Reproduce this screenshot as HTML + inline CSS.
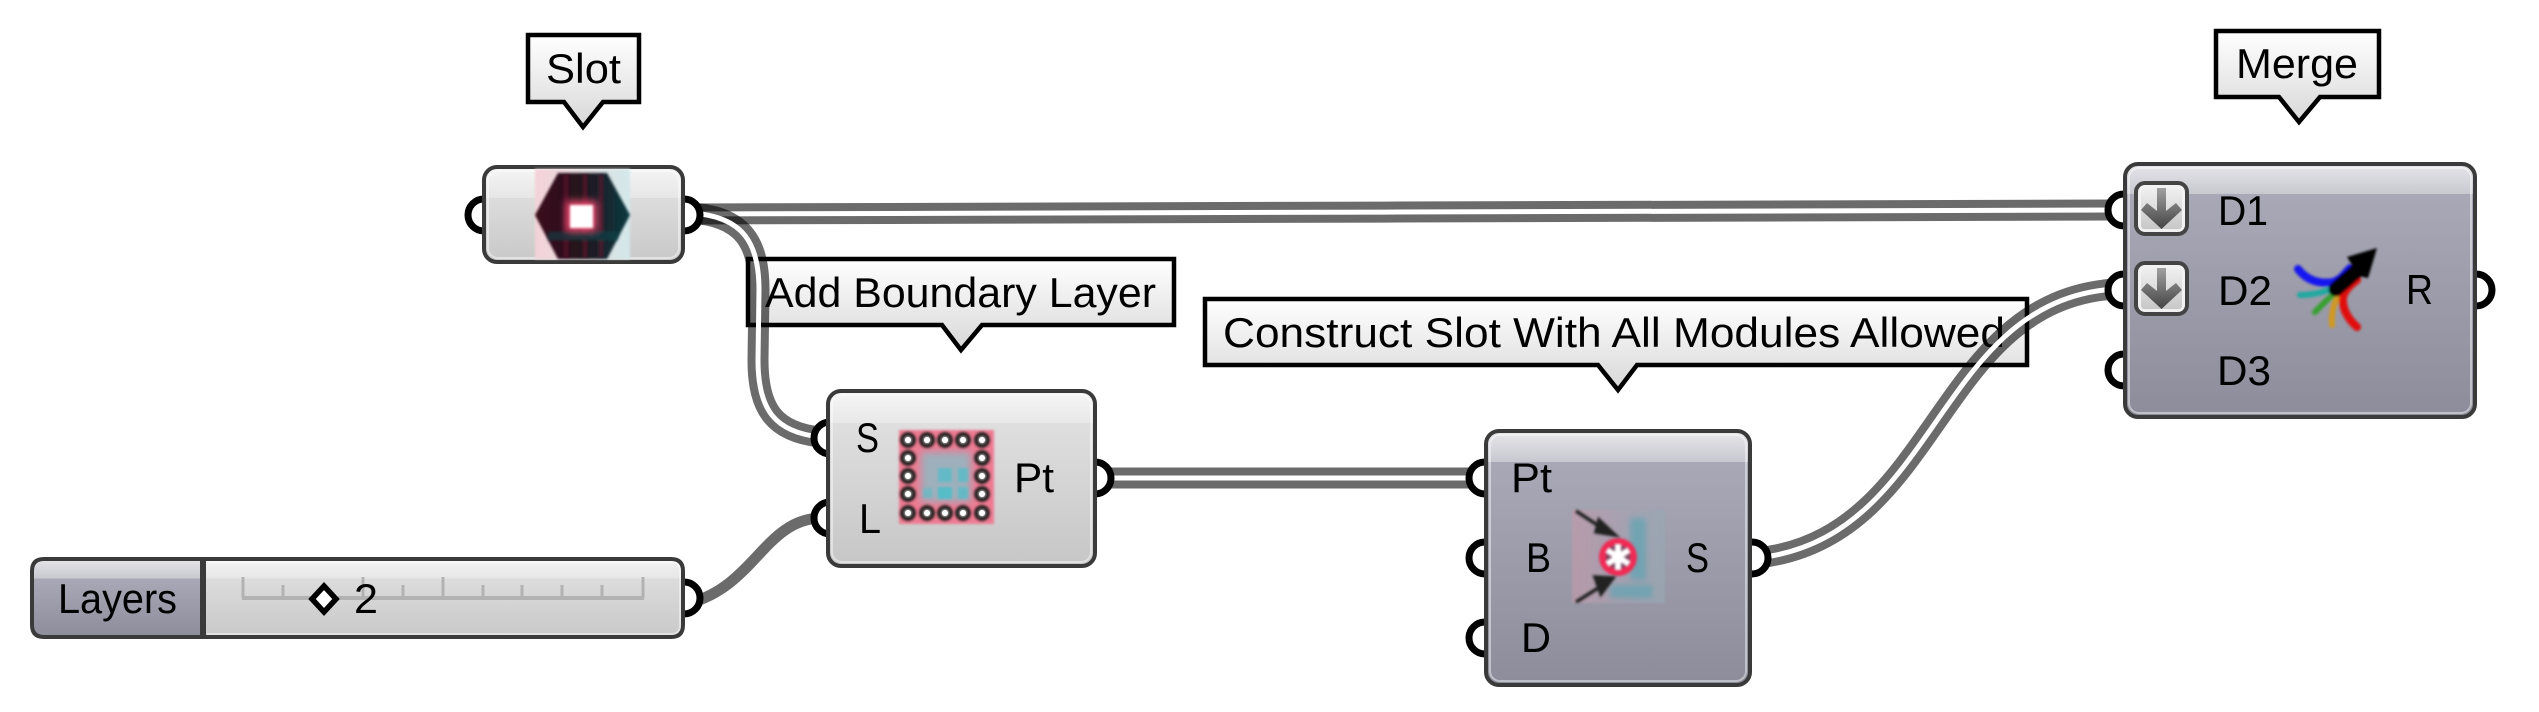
<!DOCTYPE html>
<html>
<head>
<meta charset="utf-8">
<style>
html,body{margin:0;padding:0;background:#fff;width:2539px;height:712px;overflow:hidden}
svg{display:block}
text{font-family:"Liberation Sans",sans-serif;font-size:42px;fill:#000}
.w{fill:none;stroke:#000;stroke-opacity:.58;stroke-width:21}
.g{fill:none;stroke:#fff;stroke-width:5}
.p{fill:#fff;stroke:#000;stroke-width:7}
.c{stroke:#3a3a3a;stroke-width:4}
.h{fill:none;stroke:#fff;stroke-opacity:.45;stroke-width:2}
.t{stroke:#000;stroke-width:4.5;stroke-linejoin:miter;fill:url(#tt)}
.k{stroke:#b2b2b2;stroke-width:3}
</style>
</head>
<body>
<svg width="2539" height="712" viewBox="0 0 2539 712" xmlns="http://www.w3.org/2000/svg">
<defs>
<linearGradient id="tt" x1="0" y1="0" x2="0" y2="1"><stop offset="0" stop-color="#ffffff"/><stop offset="1" stop-color="#d8d8d8"/></linearGradient>
<linearGradient id="g1" gradientUnits="userSpaceOnUse" x1="0" y1="166" x2="0" y2="263"><stop offset="0" stop-color="#f6f6f6"/><stop offset=".33" stop-color="#e6e6e6"/><stop offset=".33" stop-color="#dcdcdc"/><stop offset="1" stop-color="#c8c8c8"/></linearGradient>
<linearGradient id="g2" gradientUnits="userSpaceOnUse" x1="0" y1="390" x2="0" y2="567"><stop offset="0" stop-color="#f6f6f6"/><stop offset=".187" stop-color="#e8e8e8"/><stop offset=".187" stop-color="#dfdfdf"/><stop offset="1" stop-color="#c6c6c6"/></linearGradient>
<linearGradient id="g3" gradientUnits="userSpaceOnUse" x1="0" y1="429" x2="0" y2="687"><stop offset="0" stop-color="#e8e8ec"/><stop offset=".128" stop-color="#c8c8d0"/><stop offset=".128" stop-color="#a8a8b6"/><stop offset="1" stop-color="#8c8c9a"/></linearGradient>
<linearGradient id="g4" gradientUnits="userSpaceOnUse" x1="0" y1="162" x2="0" y2="419"><stop offset="0" stop-color="#e8e8ec"/><stop offset=".125" stop-color="#c8c8d0"/><stop offset=".125" stop-color="#a8a8b6"/><stop offset="1" stop-color="#8c8c9a"/></linearGradient>
<linearGradient id="g5" gradientUnits="userSpaceOnUse" x1="0" y1="557" x2="0" y2="639"><stop offset="0" stop-color="#f6f6f6"/><stop offset=".26" stop-color="#e6e6e6"/><stop offset=".26" stop-color="#dcdcdc"/><stop offset="1" stop-color="#c8c8c8"/></linearGradient>
<linearGradient id="g6" gradientUnits="userSpaceOnUse" x1="0" y1="557" x2="0" y2="639"><stop offset="0" stop-color="#e8e8ec"/><stop offset=".26" stop-color="#c8c8d0"/><stop offset=".26" stop-color="#a8a8b6"/><stop offset="1" stop-color="#8c8c9a"/></linearGradient>
<linearGradient id="hx" x1="0" y1="0" x2="1" y2="0"><stop offset="0" stop-color="#3c0a1a"/><stop offset=".5" stop-color="#22141e"/><stop offset="1" stop-color="#0a3a40"/></linearGradient>
<linearGradient id="bk" x1="0" y1="0" x2="1" y2="0"><stop offset="0" stop-color="#f4d2d8"/><stop offset=".5" stop-color="#e6dde0"/><stop offset="1" stop-color="#d2e8ea"/></linearGradient>
<linearGradient id="bi" x1="0" y1="0" x2="0" y2="1"><stop offset="0" stop-color="#f0f0f0"/><stop offset="1" stop-color="#c8c8c8"/></linearGradient>
<linearGradient id="ar" x1="0" y1="0" x2="0" y2="1"><stop offset="0" stop-color="#a0a0a0"/><stop offset="1" stop-color="#444"/></linearGradient>
<linearGradient id="ci" x1="0" y1="0" x2="1" y2="0"><stop offset="0" stop-color="#c09aaa"/><stop offset=".55" stop-color="#a8a2b2"/><stop offset="1" stop-color="#98a8b4"/></linearGradient>
<filter id="b1" x="-20%" y="-20%" width="140%" height="140%"><feGaussianBlur stdDeviation="1.2"/></filter>
<filter id="b2" x="-40%" y="-40%" width="180%" height="180%"><feGaussianBlur stdDeviation="4"/></filter>
<filter id="b3" x="-20%" y="-20%" width="140%" height="140%"><feGaussianBlur stdDeviation="3"/></filter>
</defs>

<!-- tooltips -->
<path class="t" d="M528,35H639V102H603L583,127L564,102H528Z"/>
<path class="t" d="M748,259H1174V325H982L961,350L942,325H748Z"/>
<path class="t" d="M1205,299H2027V365H1637L1618,390L1598,365H1205Z"/>
<path class="t" d="M2216,31H2379V97H2320L2299,122L2279,97H2216Z"/>
<text x="546" y="83" textLength="75" lengthAdjust="spacingAndGlyphs">Slot</text>
<text x="765" y="307" textLength="391" lengthAdjust="spacingAndGlyphs">Add Boundary Layer</text>
<text x="1223" y="347" textLength="782" lengthAdjust="spacingAndGlyphs">Construct Slot With All Modules Allowed</text>
<text x="2236" y="78" textLength="122" lengthAdjust="spacingAndGlyphs">Merge</text>

<!-- wires -->
<path class="w" d="M690,214C1200,214 1600,210 2115,210"/>
<path class="g" d="M690,214C1200,214 1600,210 2115,210"/>
<path class="w" d="M690,213C745,216 759,245 759,290L758,360C758,410 775,432 820,437"/>
<path class="g" d="M690,213C745,216 759,245 759,290L758,360C758,410 775,432 820,437"/>
<path class="w" d="M1105,478H1475"/>
<path class="g" d="M1105,478H1475"/>
<path class="w" d="M1760,558L1771,556C1936,527 1939,310 2104,290L2115,289"/>
<path class="g" d="M1760,558L1771,556C1936,527 1939,310 2104,290L2115,289"/>
<path fill="none" stroke="#000" stroke-opacity=".58" stroke-width="11" d="M690,603C755,585 765,520 820,518"/>

<!-- ports -->
<circle class="p" cx="484" cy="215" r="16"/><circle class="p" cx="684" cy="215" r="16"/>
<circle class="p" cx="684" cy="598" r="16"/>
<circle class="p" cx="830" cy="438" r="16"/><circle class="p" cx="830" cy="518" r="16"/><circle class="p" cx="1095" cy="478" r="16"/>
<circle class="p" cx="1485" cy="478" r="16"/><circle class="p" cx="1485" cy="558" r="16"/><circle class="p" cx="1485" cy="638" r="16"/><circle class="p" cx="1752" cy="558" r="16"/>
<circle class="p" cx="2124" cy="210" r="16"/><circle class="p" cx="2124" cy="290" r="16"/><circle class="p" cx="2124" cy="370" r="16"/><circle class="p" cx="2476" cy="290" r="16"/>

<!-- Slot -->
<rect class="c" x="484" y="167" width="199" height="95" rx="13" fill="url(#g1)"/>
<rect class="h" x="488" y="171" width="191" height="87" rx="10"/>
<rect x="535" y="169" width="95" height="90" fill="url(#bk)" filter="url(#b1)"/>
<path d="M535,215L558,173H607L630,215L607,259H558Z" fill="url(#hx)" filter="url(#b1)"/>
<g filter="url(#b1)" opacity=".5"><path d="M566,175V257M585,175V257M601,175V257" stroke="#70142e" stroke-width="5" fill="none"/><path d="M548,236H618" stroke="#0e4a50" stroke-width="9" fill="none"/></g>
<rect x="566" y="201" width="31" height="31" fill="#f04a70" filter="url(#b2)"/>
<rect x="570" y="205" width="23" height="23" fill="#fff" filter="url(#b1)"/>

<!-- Layers slider -->
<path class="c" d="M202,559H44Q32,559 32,571V625Q32,637 44,637H202Z" fill="url(#g6)"/>
<path class="c" d="M204,559H671Q683,559 683,571V625Q683,637 671,637H204Z" fill="url(#g5)"/>
<path class="h" d="M207,562H671Q680,562 680,571V625Q680,634 671,634H207"/>
<line x1="242" y1="598" x2="644" y2="598" stroke="#b2b2b2" stroke-width="4"/>
<path class="k" d="M243,577V598M283,585V598M363,577V598M403,585V598M443,577V598M483,585V598M522,585V598M562,585V598M602,585V598M643,577V598"/>
<text x="58" y="613" textLength="119" lengthAdjust="spacingAndGlyphs">Layers</text>
<path d="M324,586L336,599L324,612L312,599Z" fill="#fff" stroke="#000" stroke-width="5.5"/>
<text x="354" y="613" textLength="24" lengthAdjust="spacingAndGlyphs">2</text>

<!-- Add Boundary Layer -->
<rect class="c" x="828" y="391" width="267" height="175" rx="13" fill="url(#g2)"/>
<rect class="h" x="832" y="395" width="259" height="167" rx="10"/>
<rect x="899" y="430" width="95" height="94" fill="#ee7a92" filter="url(#b1)"/>
<rect x="921" y="452" width="50" height="50" fill="#9db0bc" filter="url(#b2)"/>
<g fill="#55bcc8" filter="url(#b1)"><rect x="923" y="488" width="9" height="10" opacity=".6"/><rect x="938" y="487" width="14" height="12"/><rect x="958" y="487" width="10" height="12" opacity=".8"/><rect x="938" y="468" width="14" height="14" opacity=".8"/><rect x="958" y="468" width="10" height="14" opacity=".8"/></g>
<g fill="#d8d8d8" stroke="#2a2424" stroke-width="5" filter="url(#b1)">
<circle cx="908" cy="440" r="5.500"/><circle cx="927" cy="440" r="5.500"/><circle cx="945" cy="440" r="5.500"/><circle cx="963" cy="440" r="5.500"/><circle cx="982" cy="440" r="5.500"/>
<circle cx="908" cy="458" r="5.500"/><circle cx="982" cy="458" r="5.500"/><circle cx="908" cy="476" r="5.500"/><circle cx="982" cy="476" r="5.500"/><circle cx="908" cy="494" r="5.500"/><circle cx="982" cy="494" r="5.500"/>
<circle cx="908" cy="513" r="5.500"/><circle cx="927" cy="513" r="5.500"/><circle cx="945" cy="513" r="5.500"/><circle cx="963" cy="513" r="5.500"/><circle cx="982" cy="513" r="5.500"/>
</g>
<g fill="#fff"><circle cx="908" cy="440" r="3"/><circle cx="927" cy="440" r="3"/><circle cx="945" cy="440" r="3"/><circle cx="963" cy="440" r="3"/><circle cx="982" cy="440" r="3"/><circle cx="908" cy="458" r="3"/><circle cx="982" cy="458" r="3"/><circle cx="908" cy="476" r="3"/><circle cx="982" cy="476" r="3"/><circle cx="908" cy="494" r="3"/><circle cx="982" cy="494" r="3"/><circle cx="908" cy="513" r="3"/><circle cx="927" cy="513" r="3"/><circle cx="945" cy="513" r="3"/><circle cx="963" cy="513" r="3"/><circle cx="982" cy="513" r="3"/></g>
<text x="856" y="452" textLength="23" lengthAdjust="spacingAndGlyphs">S</text>
<text x="859" y="533" textLength="22" lengthAdjust="spacingAndGlyphs">L</text>
<text x="1014" y="492" textLength="40" lengthAdjust="spacingAndGlyphs">Pt</text>

<!-- Construct Slot -->
<rect class="c" x="1486" y="431" width="264" height="254" rx="13" fill="url(#g3)"/>
<rect class="h" x="1490" y="435" width="256" height="246" rx="10"/>
<rect x="1572" y="510" width="93" height="93" fill="url(#ci)" filter="url(#b1)" opacity=".75"/>
<g fill="#5fa4b2" opacity=".7" filter="url(#b3)"><rect x="1630" y="518" width="16" height="62"/><rect x="1610" y="585" width="42" height="13"/></g>
<circle cx="1618" cy="557" r="19" fill="#f02c55" filter="url(#b1)"/>
<circle cx="1618" cy="557" r="12" fill="#7a4a62" filter="url(#b1)"/>
<path d="M1618,544V570M1607,550L1629,564M1629,550L1607,564" stroke="#fff" stroke-width="6" filter="url(#b1)" fill="none"/>
<g stroke="#222" stroke-width="3.500" fill="#222" filter="url(#b1)">
<path d="M1576,511L1605,530"/><path d="M1599,520L1615,535L1596,532Z"/>
<path d="M1576,602L1603,585"/><path d="M1595,577L1613,578L1601,594Z"/>
</g>
<text x="1511" y="492" textLength="41" lengthAdjust="spacingAndGlyphs">Pt</text>
<text x="1526" y="572" textLength="25" lengthAdjust="spacingAndGlyphs">B</text>
<text x="1521" y="652" textLength="30" lengthAdjust="spacingAndGlyphs">D</text>
<text x="1686" y="572" textLength="23" lengthAdjust="spacingAndGlyphs">S</text>

<!-- Merge -->
<rect class="c" x="2125" y="164" width="350" height="253" rx="13" fill="url(#g4)"/>
<rect class="h" x="2129" y="168" width="342" height="245" rx="10"/>
<rect x="2136" y="183" width="51" height="51" rx="9" fill="#f2f2f2" stroke="#444" stroke-width="4"/>
<rect x="2141" y="188" width="41" height="41" rx="3" fill="url(#bi)"/>
<path d="M2157,188H2166V211L2176,203L2182,210L2161.500,229L2141,210L2147,203L2157,211Z" fill="url(#ar)"/>
<rect x="2136" y="263" width="51" height="51" rx="9" fill="#f2f2f2" stroke="#444" stroke-width="4"/>
<rect x="2141" y="268" width="41" height="41" rx="3" fill="url(#bi)"/>
<path d="M2157,268H2166V291L2176,283L2182,290L2161.500,309L2141,290L2147,283L2157,291Z" fill="url(#ar)"/>
<text x="2218" y="225" textLength="50" lengthAdjust="spacingAndGlyphs">D1</text>
<text x="2218" y="305" textLength="54" lengthAdjust="spacingAndGlyphs">D2</text>
<text x="2217" y="385" textLength="54" lengthAdjust="spacingAndGlyphs">D3</text>
<text x="2406" y="304" textLength="27" lengthAdjust="spacingAndGlyphs">R</text>
<g fill="none" stroke-linecap="round" filter="url(#b1)">
<path d="M2298,269C2308,282 2322,284 2333,282C2340,280 2344,275 2350,268" stroke="#1414f0" stroke-width="8"/>
<path d="M2300,295C2312,295 2320,293 2332,289" stroke="#20a8a0" stroke-width="6"/>
<path d="M2315,312C2322,305 2328,298 2337,292" stroke="#38a030" stroke-width="6"/>
<path d="M2332,325C2331,312 2334,302 2340,294" stroke="#d09820" stroke-width="6"/>
<path d="M2357,327C2347,318 2342,308 2343,297C2345,290 2350,285 2357,280" stroke="#e01010" stroke-width="8"/>
<path d="M2336,289L2360,268" stroke="#000" stroke-width="15"/>
</g>
<path d="M2347,257L2377,248L2368,278L2363,277L2352,265Z" fill="#000" filter="url(#b1)"/>
</svg>
</body>
</html>
